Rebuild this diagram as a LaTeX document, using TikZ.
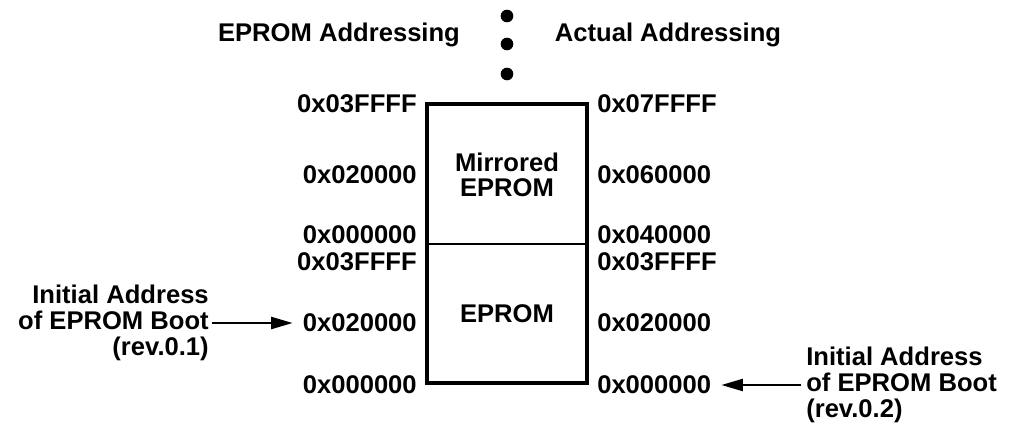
\documentclass[tikz,border=0pt]{standalone}
\usepackage{fontspec}
\setmainfont{Liberation Sans}
\usetikzlibrary{arrows.meta}
\begin{document}
\begin{tikzpicture}[x=0.75pt,y=-0.75pt,
  lbl/.style={font=\bfseries\fontsize{19.2}{19}\selectfont, inner sep=0pt},
  addrL/.style={lbl, anchor=east},
  addrR/.style={lbl, anchor=west},
  note/.style={lbl, align=left, font=\bfseries\fontsize{19.2}{19.5}\selectfont},
  dot/.style={circle, fill=black, inner sep=0pt, minimum size=9.5pt},
  arr/.style={line width=1.5pt, -{Triangle[length=16pt,width=9pt]}}]
\useasboundingbox (0,0) rectangle (1010,429);
% dots
\node[dot] (d1) at (507,16) {};
\node[dot] (d2) at (507,44) {};
\node[dot] (d3) at (507,74) {};
% headers
\node[lbl] (hl) at (339,35) {EPROM Addressing};
\node[lbl] (hr) at (668,35) {Actual Addressing};
% box
\draw[line width=3pt] (427,104) rectangle (587,383);
\coordinate (ml) at (427,244);
\coordinate (mr) at (587,244);
\draw[line width=1.3pt] (ml) -- (mr);
\node[lbl, align=center, font=\bfseries\fontsize{19.2}{18.75}\selectfont] (mir) at (507,175) {Mirrored\\EPROM};
\node[lbl] (ep) at (507,314) {EPROM};
% left addresses
\node[addrL] (l1) at (417,104) {0x03FFFF};
\node[addrL] (l2) at (417,175) {0x020000};
\node[addrL] (l3) at (417,235) {0x000000};
\node[addrL] (l4) at (417,262) {0x03FFFF};
\node[addrL] (l5) at (417,323) {0x020000};
\node[addrL] (l6) at (417,385) {0x000000};
% right addresses
\node[addrR] (r1) at (597,104) {0x07FFFF};
\node[addrR] (r2) at (597,175) {0x060000};
\node[addrR] (r3) at (597,235) {0x040000};
\node[addrR] (r4) at (597,262) {0x03FFFF};
\node[addrR] (r5) at (597,323) {0x020000};
\node[addrR] (r6) at (597,385) {0x000000};
% notes
\node[note, align=right, anchor=east] (nl) at (209,323) {Initial Address\\of EPROM Boot\\(rev.0.1)};
\node[note, anchor=west] (nr) at (806,385) {Initial Address\\of EPROM Boot\\(rev.0.2)};
\draw[arr] ([xshift=2pt]nl.east) -- ([xshift=-7.5pt]l5.west);
\draw[arr] ([xshift=-4pt]nr.west) -- ([xshift=7.5pt]r6.east);
\end{tikzpicture}
\end{document}
